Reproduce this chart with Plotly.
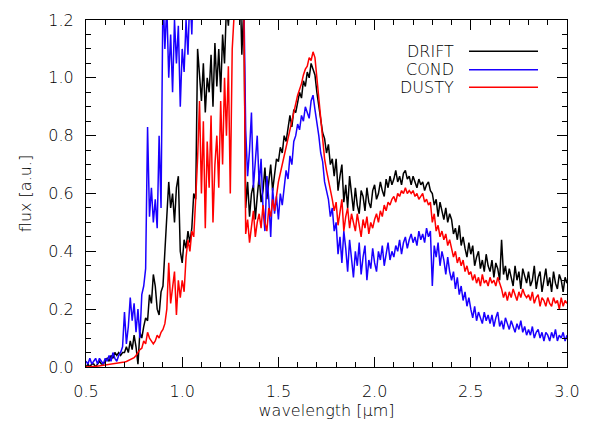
import numpy as np
import plotly.graph_objects as go

# wavelength grid (micron), 0.01 step from 0.50 to 3.00
wavelength = np.round(np.arange(0.50, 3.0001, 0.01), 2)

drift = [
    0.00, 0.01, 0.00, 0.01, 0.01, 0.00, 0.01, 0.02, 0.01, 0.01,
    0.02, 0.03, 0.02, 0.04, 0.03, 0.05, 0.04, 0.05, 0.04, 0.05,
    0.05, 0.07, 0.05, 0.09, 0.06, 0.11, 0.07, 0.01, 0.12, 0.10,
    0.14, 0.17, 0.16, 0.25, 0.22, 0.32, 0.28, 0.20, 0.18, 0.26,
    0.28, 0.40, 0.52, 0.64, 0.55, 0.60, 0.50, 0.62, 0.66, 0.40,
    0.36, 0.44, 0.41, 0.47, 0.43, 0.48, 0.60, 0.58, 1.10, 1.02,
    0.92, 1.05, 0.88, 1.00, 0.95, 1.08, 0.90, 1.12, 0.97, 1.10,
    0.95, 1.15, 1.05, 1.25, 1.18, 1.30, 1.22, 1.35, 1.28, 1.40,
    1.35, 1.08, 1.25, 0.55, 0.64, 0.52, 0.60, 0.63, 0.51, 0.59,
    0.66, 0.57, 0.61, 0.69, 0.58, 0.64, 0.70, 0.61, 0.67, 0.72,
    0.71, 0.76, 0.74, 0.80, 0.78, 0.82, 0.87, 0.83, 0.89, 0.88,
    0.92, 0.95, 0.93, 0.99, 0.97, 1.02, 1.00, 1.05, 1.03, 1.01,
    0.95, 0.90, 0.86, 0.81, 0.79, 0.74, 0.77, 0.70, 0.72, 0.66,
    0.72, 0.61, 0.66, 0.70, 0.57, 0.63, 0.55, 0.66, 0.60, 0.54,
    0.62, 0.56, 0.53, 0.61, 0.59, 0.54, 0.62, 0.57, 0.55, 0.61,
    0.63, 0.58, 0.60, 0.64, 0.61, 0.59, 0.65, 0.62, 0.66, 0.63,
    0.65, 0.68, 0.64, 0.66, 0.63, 0.67, 0.68, 0.65, 0.66, 0.63,
    0.66, 0.64, 0.62, 0.65, 0.63, 0.64, 0.61, 0.63, 0.64, 0.61,
    0.60, 0.56, 0.58, 0.52, 0.57, 0.54, 0.51, 0.55, 0.50, 0.53,
    0.51, 0.46, 0.48, 0.44, 0.49, 0.42, 0.45, 0.41, 0.38, 0.43,
    0.39, 0.42, 0.35, 0.38, 0.40, 0.34, 0.37, 0.33, 0.39, 0.35,
    0.33, 0.37, 0.31, 0.36, 0.34, 0.30, 0.44, 0.32, 0.35, 0.30,
    0.34, 0.31, 0.28, 0.35, 0.30, 0.33, 0.27, 0.34, 0.31, 0.29,
    0.33, 0.28, 0.30, 0.35, 0.27, 0.31, 0.33, 0.26, 0.30, 0.34,
    0.28, 0.31, 0.26, 0.33, 0.29, 0.27, 0.32, 0.30, 0.26, 0.31,
    0.29,
]

cond = [
    0.02, 0.01, 0.03, 0.01, 0.02, 0.03, 0.01, 0.03, 0.02, 0.01,
    0.03, 0.02, 0.04, 0.02, 0.05, 0.03, 0.02, 0.04, 0.05, 0.07,
    0.19, 0.08, 0.14, 0.24, 0.16, 0.22, 0.12, 0.20, 0.10, 0.25,
    0.28, 0.34, 0.83, 0.52, 0.62, 0.50, 0.58, 0.48, 0.80, 0.55,
    1.30, 1.10, 1.25, 1.00, 1.15, 0.95, 1.20, 1.05, 1.18, 0.90,
    1.10, 1.02, 1.20, 1.08, 1.30, 1.15, 1.40, 1.50, 1.45, 1.40,
    1.50, 1.40, 1.45, 1.35, 1.50, 1.40, 1.45, 1.30, 1.40, 1.50,
    1.45, 1.50, 1.40, 1.50, 1.45, 1.55, 1.50, 1.45, 1.50, 1.40,
    1.45, 1.35, 1.30, 0.82, 0.66, 0.75, 0.88, 0.62, 0.70, 0.80,
    0.63, 0.72, 0.55, 0.47, 0.66, 0.58, 0.45, 0.62, 0.53, 0.59,
    0.51, 0.60, 0.56, 0.63, 0.68, 0.65, 0.73, 0.70, 0.78, 0.80,
    0.84, 0.82, 0.87, 0.85, 0.90, 0.88, 0.86, 0.92, 0.94, 0.89,
    0.85, 0.80, 0.74, 0.71, 0.64, 0.61, 0.58, 0.52, 0.55, 0.47,
    0.50, 0.39, 0.45, 0.36, 0.47, 0.41, 0.33, 0.44, 0.38, 0.31,
    0.40, 0.35, 0.43, 0.32, 0.38, 0.42, 0.30, 0.37, 0.34, 0.41,
    0.36, 0.33, 0.40, 0.37, 0.42, 0.35, 0.39, 0.43, 0.37, 0.40,
    0.38, 0.42, 0.40, 0.44, 0.39, 0.43, 0.45, 0.41, 0.44, 0.46,
    0.43, 0.45, 0.42, 0.47, 0.44, 0.46, 0.43, 0.48, 0.45, 0.47,
    0.28, 0.42, 0.38, 0.43, 0.35, 0.40, 0.37, 0.32, 0.38, 0.33,
    0.30, 0.33, 0.27, 0.31, 0.25, 0.28, 0.23, 0.26, 0.21, 0.24,
    0.20, 0.17, 0.21, 0.16, 0.19, 0.17, 0.15, 0.19, 0.16, 0.18,
    0.15, 0.18, 0.14, 0.17, 0.19, 0.14, 0.16, 0.13, 0.17, 0.15,
    0.13, 0.16, 0.14, 0.12, 0.15, 0.13, 0.16, 0.12, 0.14, 0.11,
    0.13, 0.11, 0.14, 0.10, 0.12, 0.13, 0.10, 0.12, 0.09, 0.12,
    0.11, 0.09, 0.12, 0.10, 0.13, 0.09, 0.11, 0.10, 0.12, 0.09,
    0.11,
]

dusty = [
    0.000, 0.001, 0.001, 0.001, 0.002, 0.002, 0.003, 0.003, 0.004, 0.005,
    0.005, 0.006, 0.007, 0.008, 0.009, 0.010, 0.011, 0.012, 0.014, 0.015,
    0.017, 0.019, 0.022, 0.025, 0.028, 0.032, 0.040, 0.050, 0.060, 0.065,
    0.09, 0.08, 0.12, 0.10, 0.09, 0.08, 0.09, 0.11, 0.10, 0.12,
    0.13, 0.15, 0.20, 0.36, 0.22, 0.28, 0.33, 0.18, 0.30, 0.24,
    0.30, 0.26, 0.38, 0.44, 0.40, 0.47, 0.45, 0.58, 0.72, 0.92,
    0.60, 0.85, 0.48, 0.78, 0.62, 0.87, 0.50, 0.70, 0.80, 0.62,
    0.92, 0.70, 1.00, 0.80, 1.04, 0.60, 1.10, 1.22, 1.30, 1.35,
    1.40, 1.35, 1.30, 0.46, 0.51, 0.43, 0.49, 0.54, 0.45, 0.50,
    0.53, 0.48, 0.56, 0.50, 0.47, 0.55, 0.52, 0.58, 0.54, 0.60,
    0.64, 0.67, 0.70, 0.74, 0.76, 0.80, 0.82, 0.86, 0.88, 0.91,
    0.94, 0.96, 0.98, 1.01, 1.03, 1.04, 1.07, 1.06, 1.09, 1.07,
    1.00, 0.92, 0.85, 0.78, 0.72, 0.68, 0.65, 0.61, 0.58, 0.54,
    0.57, 0.49, 0.53, 0.58, 0.47, 0.52, 0.55, 0.48, 0.53, 0.50,
    0.47, 0.53, 0.49, 0.45, 0.51, 0.48, 0.52, 0.46, 0.50, 0.48,
    0.51, 0.53, 0.50, 0.54, 0.52, 0.56, 0.54, 0.57, 0.56, 0.58,
    0.59, 0.57, 0.60, 0.59, 0.61, 0.60, 0.62, 0.60, 0.61, 0.60,
    0.61, 0.59, 0.60, 0.58, 0.59, 0.60, 0.57, 0.58, 0.56, 0.57,
    0.50, 0.53, 0.47, 0.49, 0.45, 0.47, 0.44, 0.46, 0.42, 0.44,
    0.41, 0.38, 0.40, 0.36, 0.38, 0.35, 0.37, 0.33, 0.35, 0.32,
    0.33, 0.30, 0.32, 0.29, 0.31, 0.28, 0.32, 0.29, 0.30, 0.28,
    0.31, 0.29, 0.30, 0.28, 0.31, 0.29, 0.27, 0.24, 0.26, 0.23,
    0.26, 0.24, 0.27, 0.25, 0.23, 0.26, 0.24, 0.27, 0.25, 0.24,
    0.25, 0.23, 0.26, 0.22, 0.24, 0.25, 0.21, 0.24, 0.23, 0.21,
    0.24, 0.22, 0.21, 0.24, 0.22, 0.23, 0.20, 0.24, 0.21, 0.23,
    0.22,
]

series_names = ["DRIFT", "COND", "DUSTY"]
series_colors = ["#000000", "#1a00ff", "#ff0000"]
series_values = [drift, cond, dusty]

FONT = "DejaVu Sans"
TXT = dict(family=FONT, size=16, color="black", weight=200)

fig = go.Figure()
for name, col, vals in zip(series_names, series_colors, series_values):
    fig.add_trace(go.Scatter(x=wavelength, y=vals, mode="lines", name=name,
                             line=dict(color=col, width=1.5), showlegend=False))

# hand-made legend: text to the left, line sample to the right
leg_y = [43, 62, 80]
for name, col, yy in zip(series_names, series_colors, leg_y):
    yp = 1 - (yy - 11) / 356.0
    fig.add_annotation(xref="paper", yref="paper", x=(456 - 86) / 481.0, y=yp,
                       text=name, showarrow=False, xanchor="right", yanchor="middle",
                       font=TXT)
    fig.add_shape(type="line", xref="paper", yref="paper",
                  x0=(469 - 86) / 481.0, x1=(538 - 86) / 481.0, y0=yp, y1=yp,
                  line=dict(color=col, width=1.6))

axis_common = dict(showline=True, linecolor="black", linewidth=1, mirror="allticks",
                   ticks="inside", ticklen=10, tickwidth=1, tickcolor="black",
                   showgrid=False, zeroline=False, tickfont=TXT)

fig.update_xaxes(range=[0.5, 3.0], tickvals=[0.5, 1.0, 1.5, 2.0, 2.5, 3.0],
                 ticktext=["0.5", "1.0", "1.5", "2.0", "2.5", "3.0"],
                 minor=dict(ticks="inside", ticklen=5, dtick=0.1, tick0=0.5,
                            tickcolor="black", showgrid=False),
                 title=dict(text="wavelength [μm]", font=TXT, standoff=4),
                 ticklabelstandoff=10,
                 **axis_common)
fig.update_yaxes(range=[0.0, 1.2], tickvals=[0.0, 0.2, 0.4, 0.6, 0.8, 1.0, 1.2],
                 ticktext=["0.0", "0.2", "0.4", "0.6", "0.8", "1.0", "1.2"],
                 minor=dict(ticks="inside", ticklen=5, dtick=0.05, tick0=0,
                            tickcolor="black", showgrid=False),
                 title=dict(text="flux [a.u.]", font=TXT, standoff=12),
                 ticklabelstandoff=8,
                 **axis_common)

fig.update_layout(width=596, height=427, margin=dict(l=86, r=29, t=11, b=60),
                  paper_bgcolor="white", plot_bgcolor="white")

fig.write_html("out.html")
